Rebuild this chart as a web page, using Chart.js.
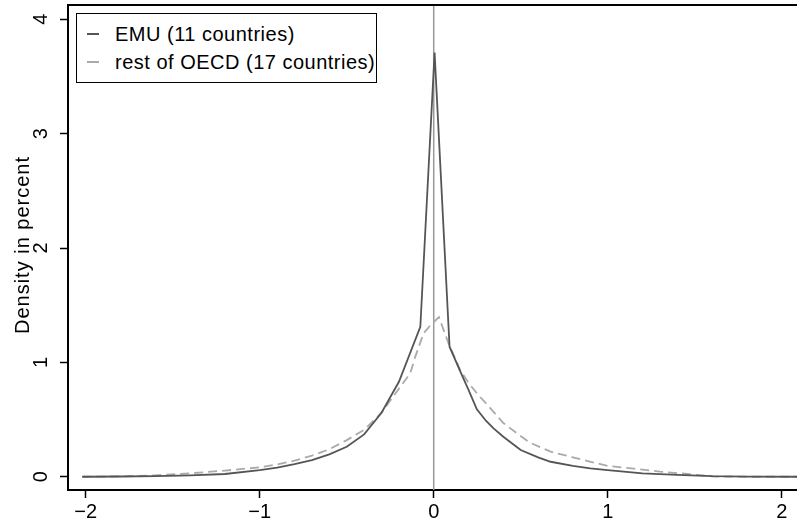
<!DOCTYPE html>
<html>
<head>
<meta charset="utf-8">
<script src="https://cdn.jsdelivr.net/npm/chart.js@4.4.1/dist/chart.umd.min.js"></script>
<style>
  html, body { margin: 0; padding: 0; background: #fff; overflow: hidden; }
  #wrap { position: relative; width: 797px; height: 525px; }
  #legend {
    position: absolute; left: 76px; top: 13px; width: 299px; height: 68px;
    border: 1px solid #000; background: #fff;
    font-family: "Liberation Sans", Arial, sans-serif; font-size: 20px; letter-spacing: 0.5px; color: #000;
  }
  .row { position: absolute; left: 0; height: 24px; line-height: 24px; white-space: nowrap; }
  .row span.sample { position: absolute; left: 10px; top: 11px; width: 12px; height: 2px; }
  .row span.label { position: absolute; left: 38px; top: 0; }
</style>
</head>
<body>
<div id="wrap">
  <canvas id="chart" width="797" height="525"></canvas>
  <div id="legend">
    <div class="row" style="top: 8px;"><span class="sample" style="background:#555;"></span><span class="label">EMU (11 countries)</span></div>
    <div class="row" style="top: 36px;"><span class="sample" style="background:#aaa;"></span><span class="label">rest of OECD (17 countries)</span></div>
  </div>
</div>
<script>
// density curves (x in percent, y = density)
const emuX = [-2.02, -1.8, -1.6, -1.4, -1.2, -1.0, -0.9, -0.8, -0.7, -0.6, -0.5, -0.4, -0.3, -0.2, -0.077, 0.005, 0.091, 0.15, 0.2, 0.248, 0.3, 0.344, 0.4, 0.5, 0.6, 0.672, 0.8, 0.9, 1.0, 1.2, 1.4, 1.6, 1.8, 2.1];
const emuY = [0, 0.002, 0.006, 0.012, 0.024, 0.058, 0.08, 0.11, 0.145, 0.195, 0.262, 0.37, 0.56, 0.83, 1.31, 3.71, 1.137, 0.93, 0.76, 0.59, 0.49, 0.423, 0.35, 0.234, 0.17, 0.131, 0.095, 0.073, 0.058, 0.03, 0.016, 0.005, 0.001, 0];

const oecdX = [-2.02, -1.8, -1.6, -1.4, -1.2, -1.0, -0.9, -0.8, -0.7, -0.6, -0.5, -0.4, -0.3, -0.2, -0.135, -0.106, -0.058, -0.014, 0.03, 0.085, 0.152, 0.2, 0.248, 0.326, 0.4, 0.478, 0.55, 0.672, 0.8, 0.902, 1.0, 1.15, 1.3, 1.46, 1.61, 1.8, 2.1];
const oecdY = [0, 0.003, 0.012, 0.03, 0.054, 0.082, 0.108, 0.14, 0.185, 0.24, 0.32, 0.41, 0.56, 0.77, 0.905, 1.05, 1.255, 1.333, 1.395, 1.167, 0.933, 0.82, 0.73, 0.598, 0.47, 0.38, 0.3, 0.219, 0.17, 0.131, 0.094, 0.07, 0.045, 0.024, 0.002, 0, 0];

const zeroLineX = [0, 0];
const zeroLineY = [-1, 5];

const xTicks = [-2, -1, 0, 1, 2];
const yTicks = [0, 1, 2, 3, 4];

const FONT = '"Liberation Sans", Arial, sans-serif';

function toPoints(xs, ys) {
  return xs.map((x, i) => ({ x, y: ys[i] }));
}

function fmt(v) {
  return v < 0 ? "\u2212" + Math.abs(v) : String(v);
}

const frameAndLabels = {
  id: "frameAndLabels",
  afterDraw(chart) {
    const { ctx, chartArea, scales } = chart;
    ctx.save();

    // top frame line
    ctx.strokeStyle = "#000";
    ctx.lineWidth = 2;
    ctx.beginPath();
    ctx.moveTo(chartArea.left, chartArea.top);
    ctx.lineTo(chartArea.right, chartArea.top);
    ctx.stroke();

    // rotated y tick labels
    ctx.fillStyle = "#000";
    ctx.font = "20px " + FONT;
    ctx.textAlign = "center";
    ctx.textBaseline = "alphabetic";
    yTicks.forEach(v => {
      const py = scales.y.getPixelForValue(v);
      ctx.save();
      ctx.translate(47, py);
      ctx.rotate(-Math.PI / 2);
      ctx.fillText(fmt(v), 0, 0);
      ctx.restore();
    });

    // y axis title
    ctx.save();
    ctx.translate(28.5, 245);
    ctx.rotate(-Math.PI / 2);
    if ("letterSpacing" in ctx) ctx.letterSpacing = "1px";
    ctx.fillText("Density in percent", 0, 0);
    ctx.restore();

    ctx.restore();
  },
};

new Chart(document.getElementById("chart"), {
  type: "line",
  data: {
    datasets: [
      {
        label: "EMU (11 countries)",
        data: toPoints(emuX, emuY),
        borderColor: "#555",
        borderWidth: 1.8,
        pointRadius: 0,
        tension: 0,
      },
      {
        label: "rest of OECD (17 countries)",
        data: toPoints(oecdX, oecdY),
        borderColor: "#aaa",
        borderWidth: 1.8,
        borderDash: [9, 5],
        pointRadius: 0,
        tension: 0,
      },
      {
        label: "zero",
        data: toPoints(zeroLineX, zeroLineY),
        borderColor: "#999",
        borderWidth: 1.5,
        pointRadius: 0,
      },
    ],
  },
  options: {
    responsive: false,
    animation: false,
    layout: { padding: { top: 5, right: 0, left: 0, bottom: 0 } },
    plugins: {
      legend: { display: false },
      tooltip: { enabled: false },
    },
    scales: {
      x: {
        type: "linear",
        min: -2.102,
        max: 2.088,
        afterBuildTicks: scale => {
          scale.ticks = xTicks.map(value => ({ value }));
        },
        afterFit: scale => {
          scale.height = 35;
        },
        ticks: {
          color: "#000",
          font: { family: FONT, size: 20 },
          padding: 2,
          maxRotation: 0,
          callback: v => fmt(v),
        },
        grid: {
          drawOnChartArea: false,
          tickLength: 8,
          tickColor: "#000",
          tickWidth: 1.5,
        },
        border: { display: true, color: "#000", width: 2 },
      },
      y: {
        type: "linear",
        min: -0.116,
        max: 4.125,
        afterBuildTicks: scale => {
          scale.ticks = yTicks.map(value => ({ value }));
        },
        afterFit: scale => {
          scale.width = 68;
        },
        ticks: { display: false },
        grid: {
          drawOnChartArea: false,
          tickLength: 8,
          tickColor: "#000",
          tickWidth: 1.5,
        },
        border: { display: true, color: "#000", width: 2 },
      },
    },
  },
  plugins: [frameAndLabels],
});
</script>
</body>
</html>
